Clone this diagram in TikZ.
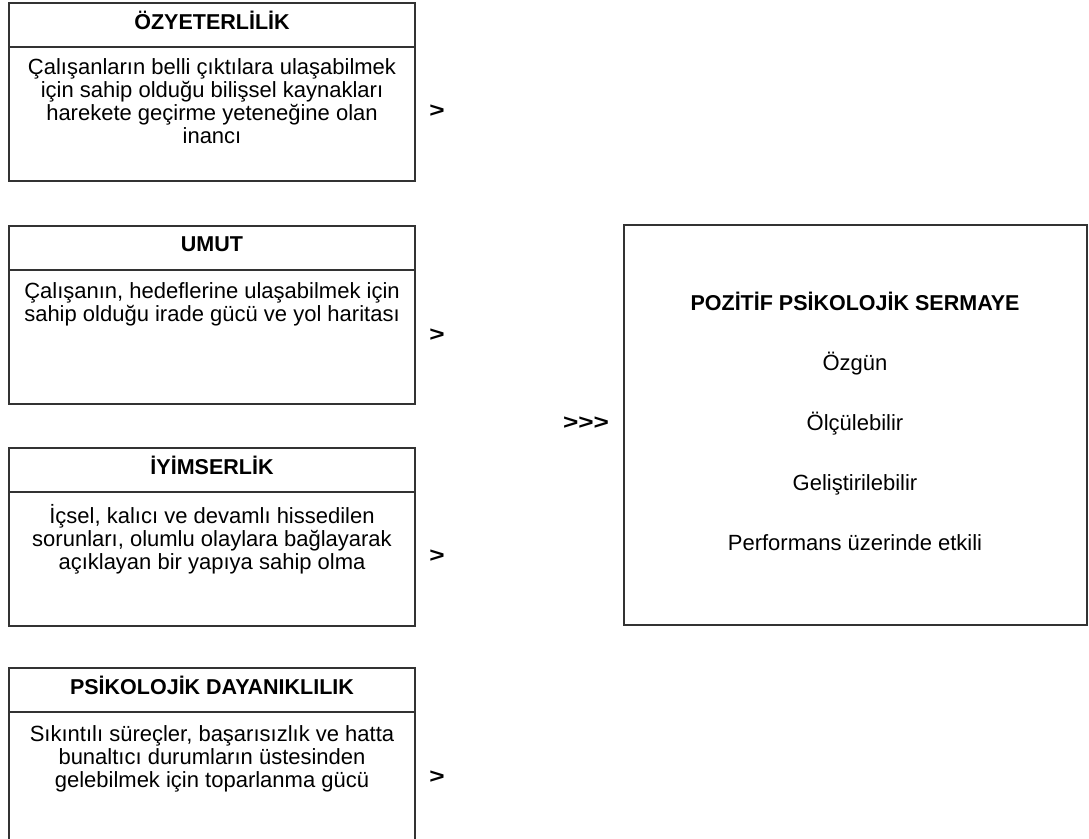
\documentclass[tikz,border=0pt]{standalone}
\usepackage{fontspec}
\setmainfont{Liberation Sans}
\begin{document}
\begin{tikzpicture}[x=1pt, y=-1pt,
		frame/.style={draw=black!80, line width=1.2pt},
		head/.style={anchor=base, font=\bfseries\fontsize{21.5}{24}\selectfont},
		body/.style={anchor=north, align=center, inner sep=0pt, font=\fontsize{22}{23}\selectfont},
		gt/.style={xscale=1.25, font=\bfseries\fontsize{21}{22}\selectfont}]
				\useasboundingbox (0,0) rectangle (1089,838);
				\foreach \t in {3,226,448,668} {
					\draw[frame] (9,\t) rectangle (415,\t+178);
					\draw[frame] (9,\t+44) -- (415,\t+44);
				}
				\draw[frame] (624,225) rectangle (1087,625);
				\node[head] (ozHead) at (212,29) {ÖZYETERLİLİK};
				\node[body] (ozBody) at (212,58) {Çalışanların belli çıktılara ulaşabilmek\\için sahip olduğu bilişsel kaynakları\\harekete geçirme yeteneğine olan\\inancı};
				\node[head] (umHead) at (212,251) {UMUT};
				\node[body] (umBody) at (212,282) {Çalışanın, hedeflerine ulaşabilmek için\\sahip olduğu irade gücü ve yol haritası};
				\node[head] (iyHead) at (212,474) {İYİMSERLİK};
				\node[body] (iyBody) at (212,504) {İçsel, kalıcı ve devamlı hissedilen\\sorunları, olumlu olaylara bağlayarak\\açıklayan bir yapıya sahip olma};
				\node[head] (psHead) at (212,694) {PSİKOLOJİK DAYANIKLILIK};
				\node[body] (psBody) at (212,725) {Sıkıntılı süreçler, başarısızlık ve hatta\\bunaltıcı durumların üstesinden\\gelebilmek için toparlanma gücü};
				\node[gt] (gtOz) at (437,111) {>};
				\node[gt] (gtUm) at (437,335) {>};
				\node[gt] (gtIy) at (437,556) {>};
				\node[gt] (gtPs) at (437,777) {>};
				\node[gt] (gtAll) at (586,423) {>{}>{}>};
				\node[head] (psyCap) at (855,310) {POZİTİF PSİKOLOJİK SERMAYE};
				\foreach \y/\txt/\nm in {370/Özgün/capA, 430/Ölçülebilir/capB, 490/Geliştirilebilir/capC, 550/Performans üzerinde etkili/capD}
					\node[anchor=base, font=\fontsize{22}{24}\selectfont] (\nm) at (855,\y) {\txt};
			\end{tikzpicture}
\end{document}
